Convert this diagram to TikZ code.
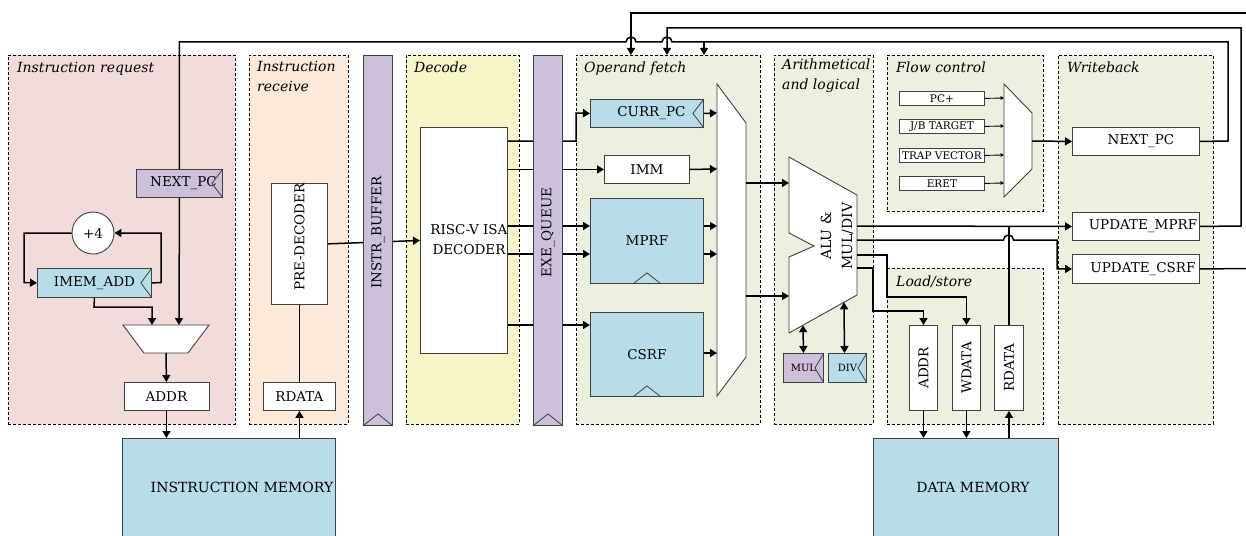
\documentclass[tikz,border=0pt]{standalone}
\usepackage{fontspec}
\usepackage{graphicx}
\setmainfont{DejaVu Serif}
\usetikzlibrary{arrows.meta}
\definecolor{cReq}{HTML}{F2DCDB}
\definecolor{cRecv}{HTML}{FDE9D9}
\definecolor{cDec}{HTML}{F8F5C9}
\definecolor{cGreen}{HTML}{EBF1DE}
\definecolor{cLav}{HTML}{CCC0DA}
\definecolor{cBlue}{HTML}{B7DEE8}
\definecolor{cBorder}{HTML}{404040}
\begin{document}
\begin{tikzpicture}[x=1pt,y=-1pt,
 stage/.style={draw=black, dash pattern=on 3pt off 2pt, line width=0.8pt, anchor=north west, inner sep=0pt},
 title/.style={anchor=north west, inner sep=0pt, align=left, font=\fontsize{14}{20}\selectfont\itshape},
 blk/.style={draw=cBorder, line width=0.9pt, fill=white, inner sep=0pt, anchor=north west, font=\fontsize{13.5}{20}\selectfont},
 small/.style={draw=cBorder, line width=0.8pt, fill=white, inner sep=0pt, anchor=north west, minimum width=85pt, minimum height=14pt, font=\fontsize{10.5}{12}\selectfont},
 bar/.style={draw=cBorder, line width=0.9pt, fill=cLav, anchor=north west, inner sep=0pt, minimum width=29pt, minimum height=370pt, font=\fontsize{13.5}{16}\selectfont},
 wire/.style={line width=1.5pt},
 arr/.style={wire, -{Triangle[length=7pt,width=8pt]}},
 darr/.style={wire, {Triangle[length=7pt,width=8pt]}-{Triangle[length=7pt,width=8pt]}},
 sarr/.style={line width=0.9pt, -{Triangle[length=3.5pt,width=3.5pt]}},
 mux/.style={draw=cBorder, line width=0.9pt, fill=white},
 clk/.style={draw=cBorder, line width=0.8pt},
 memtxt/.style={font=\fontsize{14}{16}\selectfont},
]
\useasboundingbox (0,0) rectangle (1246,535);

% ---------- stages ----------
\node[stage, fill=cReq,   minimum width=227pt, minimum height=369pt] (sReq)  at (8,55) {};
\node[stage, fill=cRecv,  minimum width=99pt,  minimum height=369pt] (sRecv) at (249,55) {};
\node[stage, fill=cDec,   minimum width=113pt, minimum height=369pt] (sDec)  at (406,55) {};
\node[stage, fill=cGreen, minimum width=184pt, minimum height=369pt] (sOp)   at (576,55) {};
\node[stage, fill=cGreen, minimum width=99pt,  minimum height=369pt] (sAlu)  at (774,55) {};
\node[stage, fill=cGreen, minimum width=156pt, minimum height=156pt] (sFlow) at (887,55) {};
\node[stage, fill=cGreen, minimum width=156pt, minimum height=156pt] (sLs)   at (887,268) {};
\node[stage, fill=cGreen, minimum width=155pt, minimum height=369pt] (sWb)   at (1058,55) {};

\node[title] (tReq)  at (17,62)  {Instruction request};
\node[title] (tRecv) at (257,61) {Instruction\\receive};
\node[title] (tDec)  at (414,62) {Decode};
\node[title] (tOp)   at (584,62) {Operand fetch};
\node[title] (tAlu)  at (782,59) {Arithmetical\\and logical};
\node[title] (tFlow) at (896,62) {Flow control};
\node[title] (tLs)   at (896,276) {Load/store};
\node[title] (tWb)   at (1067,62) {Writeback};

% ---------- instruction request ----------
\node[blk, fill=cLav, minimum width=86pt, minimum height=28pt] (pcI) at (136,169) {\hspace{8pt}NEXT\_PC};
\draw[clk] (pcI.north east) -- ([xshift=-11pt]pcI.east) -- (pcI.south east);
\node[circle, draw=cBorder, line width=0.9pt, fill=white, minimum size=42pt, inner sep=0pt, font=\fontsize{13.5}{16}\selectfont] (p4) at (93,233) {+4};
\node[blk, fill=cBlue, minimum width=114pt, minimum height=29pt] (imadd) at (37,268) {IMEM\_ADD};
\draw[clk] (imadd.north east) -- ([xshift=-11pt]imadd.east) -- (imadd.south east);
\draw[mux] (123,325) -- (209,325) -- (188,353) -- (144,353) -- cycle;
\coordinate (mIo) at (166,353);
\node[blk, minimum width=85pt, minimum height=28pt] (addrI) at (123.5,382) {ADDR};
\node[blk, fill=cBlue, minimum width=213pt, minimum height=110pt] (imem) at (122,438) {};
\node[memtxt] (imemT) at (242,487) {INSTRUCTION MEMORY};

\draw[arr] (imadd.east) -- (161,282.5) -- (161,233) -- (p4.east);
\draw[arr] (p4.west) -- (24,233) -- (24,282.5) -- (imadd.west);
\draw[arr] (imadd.south) -- (94,307) -- (152,307) -- (152,325);
\draw[arr] (pcI.south) -- (179,325);
\draw[arr] (mIo) -- (addrI.north);
\draw[arr] (addrI.south) -- (addrI.south |- imem.north);

% ---------- instruction receive ----------
\node[blk, minimum width=56pt, minimum height=114pt] (pred) at (271,183) {\rotatebox{90}{\hspace{14pt}PRE-DECODER}};
\node[blk, minimum width=72pt, minimum height=28pt] (rdI) at (263,382) {RDATA};
\draw[wire] (rdI.north) -- (pred.south);
\draw[arr] (rdI.south |- imem.north) -- (rdI.south);

% ---------- decode ----------
\node[blk, minimum width=85pt, minimum height=226pt] (rv) at (420,127) {\hspace{10pt}\begin{tabular}{@{}c@{}}RISC-V ISA\\DECODER\end{tabular}};
\draw[arr] (pred.east) -- (rv.west);

% ---------- operand fetch ----------
\node[blk, fill=cBlue, minimum width=113pt, minimum height=28pt] (cpc) at (590,99) {\hspace{9pt}CURR\_PC};
\draw[clk] (cpc.north east) -- ([xshift=-11pt]cpc.east) -- (cpc.south east);
\node[blk, minimum width=85pt, minimum height=28pt] (imm) at (604,155) {IMM};
\node[blk, fill=cBlue, minimum width=113pt, minimum height=85pt] (mprf) at (590,198) {MPRF};
\draw[clk] ([xshift=-14pt]mprf.south) -- ([yshift=11pt]mprf.south) -- ([xshift=14pt]mprf.south);
\node[blk, fill=cBlue, minimum width=113pt, minimum height=84pt] (csrf) at (590,312) {CSRF};
\draw[clk] ([xshift=-14pt]csrf.south) -- ([yshift=11pt]csrf.south) -- ([xshift=14pt]csrf.south);
\draw[mux] (717,84) -- (746,123) -- (746,357) -- (717,396) -- cycle;

\draw[arr] ([yshift=-14pt]rv.north east) -- (576,141) -- (576,113) -- (cpc.west);
\draw[arr] (rv.east |- imm.west) -- (imm.west);
\draw[arr] (rv.east |- 0,226) -- (mprf.west |- 0,226);
\draw[arr] (rv.east |- 0,254) -- (mprf.west |- 0,254);
\draw[arr] (rv.east |- 0,325) -- (csrf.west |- 0,325);

\draw[arr] (cpc.east) -- (717,113);
\draw[arr] (imm.east) -- (717,169);
\draw[arr] (mprf.east |- 0,226) -- (717,226);
\draw[arr] (mprf.east |- 0,254) -- (717,254);
\draw[arr] (csrf.east |- 0,353) -- (717,353);
\draw[arr] (746,183) -- (789,183);
\draw[arr] (746,296) -- (789,296);

% ---------- ALU ----------
\draw[mux] (789,157) -- (857,195) -- (857,295) -- (789,333) -- (789,257) -- (814,246) -- (789,233) -- cycle;
\node[font=\fontsize{14}{21}\selectfont, rotate=90, align=center] (aluT) at (837,236) {ALU \&\\MUL/DIV};
\node[blk, fill=cLav, minimum width=40pt, minimum height=29pt, font=\fontsize{10}{12}\selectfont] (mul) at (783,353) {MUL};
\draw[clk] (mul.north east) -- ([xshift=-9pt]mul.east) -- (mul.south east);
\node[blk, fill=cBlue, minimum width=38pt, minimum height=29pt, font=\fontsize{10}{12}\selectfont] (div) at (828,353) {DIV};
\draw[clk] (div.north east) -- ([xshift=-9pt]div.east) -- (div.south east);
\draw[darr] (803,325.2) -- (mul.north);
\draw[darr] (844,302.3) -- ([xshift=-3pt]div.north);

% ---------- flow control ----------
\node[small] (pcp)  at (899,91)  {PC+};
\node[small] (jb)   at (899,119) {J/B TARGET};
\node[small] (trap) at (899,148) {TRAP VECTOR};
\node[small] (eret) at (899,176) {ERET};
\draw[mux] (1004,84) -- (1032,113) -- (1032,169) -- (1004,197) -- cycle;
\draw[sarr] (pcp.east)  -- (1004,98);
\draw[sarr] (jb.east)   -- (1004,126);
\draw[sarr] (trap.east) -- (1004,155);
\draw[sarr] (eret.east) -- (1004,183);

% ---------- writeback ----------
\node[blk, minimum width=127pt, minimum height=28pt] (npW) at (1072,127) {\hspace{10pt}NEXT\_PC};
\node[blk, minimum width=127pt, minimum height=28pt] (upm) at (1072,212) {\hspace{14pt}UPDATE\_MPRF};
\node[blk, minimum width=127pt, minimum height=29pt] (upc) at (1072,254) {\hspace{14pt}UPDATE\_CSRF};
\draw[arr] (1032,141) -- (npW.west);

% ---------- load/store ----------
\node[blk, minimum width=28pt, minimum height=85pt] (addrL) at (909,325) {\rotatebox{90}{ADDR}};
\node[blk, minimum width=28pt, minimum height=85pt] (wdata) at (952,325) {\rotatebox{90}{WDATA}};
\node[blk, minimum width=29pt, minimum height=85pt] (rdL)   at (994,325) {\rotatebox{90}{RDATA}};
\node[blk, fill=cBlue, minimum width=185pt, minimum height=110pt] (dmem) at (873,438) {};
\node[memtxt] (dmemT) at (973,487) {DATA MEMORY};

\draw[arr] (857,226) -- (upm.west);
\draw[arr] (857,240) -- (1003.5,240) arc[start angle=180,end angle=0,radius=5pt] -- (1057,240) -- (upc.west -| 1057,0) -- (upc.west);
\draw[arr] (857,255) -- (887,255) -- (887,297) -- (wdata.north |- 0,297) -- (wdata.north);
\draw[arr] (857,268) -- (873,268) -- (873,311) -- (addrL.north |- 0,311) -- (addrL.north);
\draw[wire] (rdL.north) -- (rdL.north |- upm.west);
\draw[arr] (addrL.south) -- (addrL.south |- dmem.north);
\draw[arr] (wdata.south) -- (wdata.south |- dmem.north);
\draw[arr] (rdL.south |- dmem.north) -- (rdL.south);

% ---------- feedback wires on top ----------
\coordinate (eR) at (1252,268.5);
\coordinate (eT) at (1252,13);
\draw[wire] (npW.east) -- (1228,141) -- (1228,42) -- (672,42) arc[start angle=0,end angle=180,radius=5pt] -- (636,42) arc[start angle=0,end angle=180,radius=5pt] -- (pcI.north |- 0,42) -- (pcI.north);
\draw[arr] (704,42) -- (704,55);
\draw[arr] (upm.east) -- (1241,226) -- (1241,28) -- (667,28) -- (667,55);
\draw[wire] (upc.east) -- (eR);
\draw[arr] (eT) -- (631,13) -- (631,55);

% ---------- pipeline buffers (on top of the wires) ----------
\node[bar] (ibuf) at (363,55) {\rotatebox{90}{\hspace{16pt}INSTR\_BUFFER}};
\draw[clk] (ibuf.south west) -- ([yshift=12pt]ibuf.south) -- (ibuf.south east);
\node[bar] (exq) at (533,55) {\rotatebox{90}{\hspace{16pt}EXE\_QUEUE}};
\draw[clk] (exq.south west) -- ([yshift=12pt]exq.south) -- (exq.south east);
\end{tikzpicture}
\end{document}
